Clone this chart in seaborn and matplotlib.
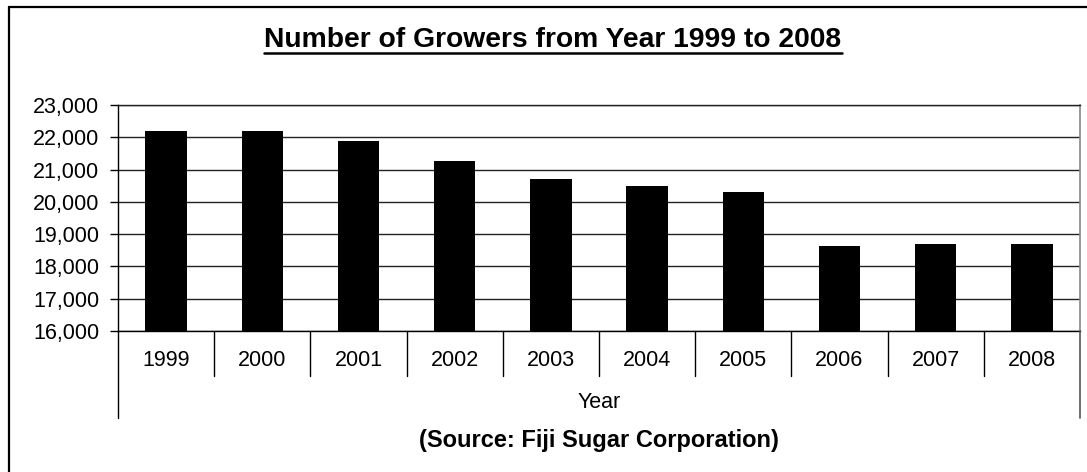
import matplotlib
matplotlib.use("Agg")
import matplotlib.pyplot as plt
from matplotlib.lines import Line2D
from matplotlib.ticker import FuncFormatter, MultipleLocator
import seaborn as sns
import pandas as pd

years = ["1999", "2000", "2001", "2002", "2003", "2004", "2005", "2006", "2007", "2008"]
growers = [22200, 22200, 21900, 21260, 20720, 20480, 20300, 18630, 18680, 18680]
title = "Number of Growers from Year 1999 to 2008"
xlabel = "Year"
source = "(Source: Fiji Sugar Corporation)"

sns.set_theme(style="white")
plt.rcParams["font.family"] = ["Liberation Sans", "DejaVu Sans"]

W, H = 1087, 472
fig = plt.figure(figsize=(W / 100, H / 100), dpi=100)
fig.patch.set_facecolor("white")

L, R, T, B = 118, 1080, 105, 331
ax = fig.add_axes([L / W, 1 - B / H, (R - L) / W, (B - T) / H])

df = pd.DataFrame({"Year": years, "Growers": growers})
sns.barplot(data=df, x="Year", y="Growers", color="black", width=0.43,
            saturation=1, ax=ax, zorder=3, edgecolor="none")

ax.set_ylim(16000, 23000)
ax.set_xlim(-0.5, len(years) - 0.5)
ax.yaxis.set_major_locator(MultipleLocator(1000))
ax.yaxis.set_major_formatter(FuncFormatter(lambda v, p: f"{int(v):,}"))
ax.grid(axis="y", color="#222222", linewidth=1.0, zorder=0)
ax.grid(axis="x", visible=False)
ax.set_axisbelow(True)

for s in ["left", "bottom"]:
    ax.spines[s].set_color("black")
    ax.spines[s].set_linewidth(1.0)
ax.spines["top"].set_color("#222222")
ax.spines["top"].set_linewidth(1.0)
ax.spines["right"].set_color("#888888")
ax.spines["right"].set_linewidth(1.2)

ax.tick_params(axis="y", which="major", direction="out", length=6, width=1,
               color="black", pad=7.5, labelsize=15.5, labelcolor="black", left=True)
ax.tick_params(axis="x", which="major", length=0, pad=14, labelsize=15.5, labelcolor="black")
ax.set_xlabel(xlabel, fontsize=15.5, color="black", labelpad=15)
ax.set_ylabel("")
ax.set_facecolor("white")

# category separators and extended axis lines
def fig_line(x0, y0, x1, y1, **kw):
    fig.add_artist(Line2D([x0 / W, x1 / W], [1 - y0 / H, 1 - y1 / H],
                          transform=fig.transFigure, **kw))

cat_w = (R - L) / len(years)
for i in range(1, len(years)):
    x = L + i * cat_w
    fig_line(x, B, x, 376, color="black", linewidth=1.0)
fig_line(L, B, L, 418, color="black", linewidth=1.0)
fig_line(R, B, R, 418, color="#555555", linewidth=1.2)

# outer frame (left and top visible)
fig_line(9, 7, 9, H + 5, color="black", linewidth=1.6)
fig_line(9, 7, W + 5, 7, color="black", linewidth=1.6)

# title with underline
t = fig.text(553 / W, 1 - 40 / H, title, ha="center", va="center",
             fontsize=20.3, fontweight="bold", color="black")
fig.canvas.draw()
bb = t.get_window_extent()
fig_line(bb.x0, 53, bb.x1, 53, color="black", linewidth=1.8)

fig.text(599 / W, 1 - 440 / H, source, ha="center", va="center",
         fontsize=17, fontweight="bold", color="black")

fig.savefig("out.png", dpi=100, facecolor="white")
